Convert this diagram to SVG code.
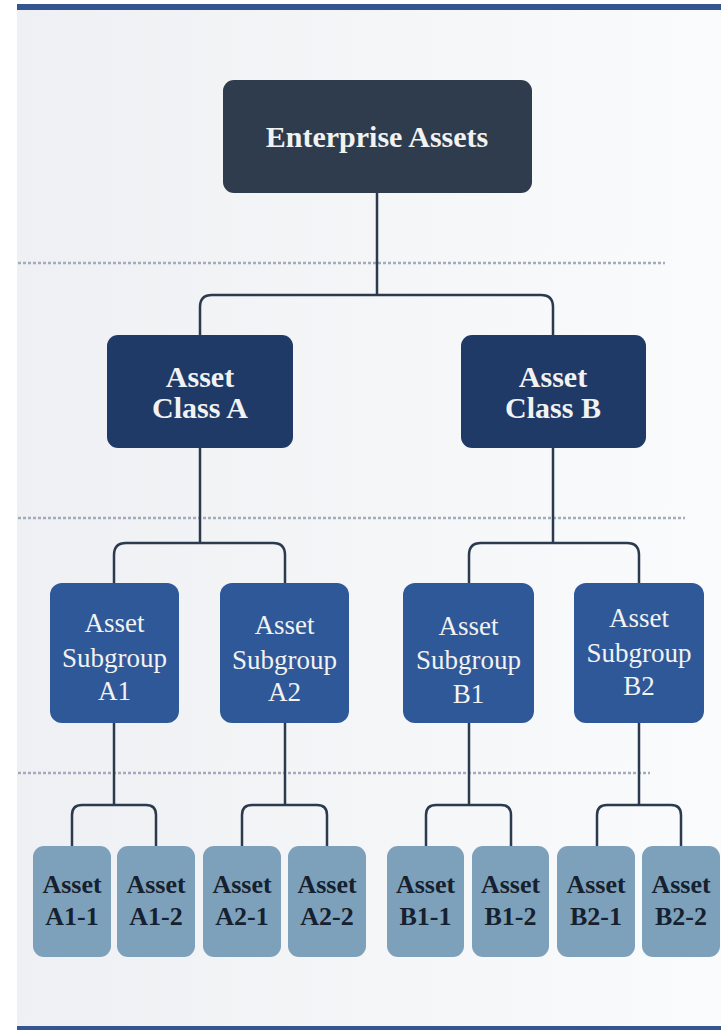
<svg xmlns="http://www.w3.org/2000/svg" width="721" height="1030" viewBox="0 0 721 1030">
<style>
.bar{fill:#34558f}
.dot{stroke:#a3acbd;stroke-width:2.5;stroke-dasharray:3 2;fill:none}
.con{stroke:#2b3a4e;stroke-width:2.5;fill:none}
.top{fill:#2e3c4d}
.cls{fill:#1f3a67}
.sub{fill:#2f5899}
.leaf{fill:#7da1ba}
.tb{font-weight:bold;fill:#f2f2f2;text-anchor:middle}
.tr{fill:#f2f2f2;text-anchor:middle;font-size:27px}
.tl{font-weight:bold;fill:#16202e;text-anchor:middle;font-size:26px}
</style>
<defs>
<linearGradient id="bg" x1="0" y1="0" x2="1" y2="0">
<stop offset="0" stop-color="#eff0f3"/>
<stop offset="1" stop-color="#fafbfc"/>
</linearGradient>
</defs>
<rect x="0" y="0" width="721" height="1030" fill="#ffffff"/>
<rect x="17" y="10" width="704" height="1016" fill="url(#bg)"/>
<rect class="bar" x="17" y="4" width="704" height="6"/>
<rect class="bar" x="17" y="1026" width="704" height="4"/>
<g id="guides">
<line class="dot" x1="18" y1="263" x2="665" y2="263"/>
<line class="dot" x1="18" y1="518" x2="685" y2="518"/>
<line class="dot" x1="18" y1="773" x2="650" y2="773"/>
</g>
<g id="connectors">
<path class="con" d="M377 193 V295"/>
<path class="con" d="M200 335 V307 Q200 295 212 295 H541 Q553 295 553 307 V335"/>
<path class="con" d="M200 448 V543"/>
<path class="con" d="M114 583 V555 Q114 543 126 543 H273 Q285 543 285 555 V583"/>
<path class="con" d="M553 448 V543"/>
<path class="con" d="M469 583 V555 Q469 543 481 543 H627 Q639 543 639 555 V583"/>
<path class="con" d="M114 723 V805"/>
<path class="con" d="M72 846 V815 Q72 805 82 805 H146 Q156 805 156 815 V846"/>
<path class="con" d="M285 723 V805"/>
<path class="con" d="M242 846 V815 Q242 805 252 805 H317 Q327 805 327 815 V846"/>
<path class="con" d="M469 723 V805"/>
<path class="con" d="M426 846 V815 Q426 805 436 805 H501 Q511 805 511 815 V846"/>
<path class="con" d="M639 723 V805"/>
<path class="con" d="M597 846 V815 Q597 805 607 805 H671 Q681 805 681 815 V846"/>
</g>
<g font-family="'Liberation Serif', 'Times New Roman', 'DejaVu Serif', serif">
<g id="n-enterprise">
<rect class="top" x="223" y="80" width="309" height="113" rx="11"/>
<text class="tb" x="377" y="147" font-size="30">Enterprise Assets</text>
</g>
<g id="n-classA">
<rect class="cls" x="107" y="335" width="186" height="113" rx="11"/>
<text class="tb" x="200" y="387" font-size="30">Asset</text>
<text class="tb" x="200" y="418" font-size="30">Class A</text>
</g>
<g id="n-classB">
<rect class="cls" x="461" y="335" width="185" height="113" rx="11"/>
<text class="tb" x="553" y="387" font-size="30">Asset</text>
<text class="tb" x="553" y="418" font-size="30">Class B</text>
</g>
<g id="n-subA1">
<rect class="sub" x="50" y="583" width="129" height="140" rx="12"/>
<text class="tr" x="114.5" y="632">Asset</text>
<text class="tr" x="114.5" y="667">Subgroup</text>
<text class="tr" x="114.5" y="700">A1</text>
</g>
<g id="n-subA2">
<rect class="sub" x="220" y="583" width="129" height="140" rx="12"/>
<text class="tr" x="284.5" y="634">Asset</text>
<text class="tr" x="284.5" y="669">Subgroup</text>
<text class="tr" x="284.5" y="701">A2</text>
</g>
<g id="n-subB1">
<rect class="sub" x="403" y="583" width="131" height="140" rx="12"/>
<text class="tr" x="468.5" y="635">Asset</text>
<text class="tr" x="468.5" y="669">Subgroup</text>
<text class="tr" x="468.5" y="703">B1</text>
</g>
<g id="n-subB2">
<rect class="sub" x="574" y="583" width="130" height="140" rx="12"/>
<text class="tr" x="639" y="627">Asset</text>
<text class="tr" x="639" y="662">Subgroup</text>
<text class="tr" x="639" y="695">B2</text>
</g>
<g id="n-A1-1">
<rect class="leaf" x="33" y="846" width="78" height="111" rx="11"/>
<text class="tl" x="72" y="893">Asset</text>
<text class="tl" x="72" y="925">A1-1</text>
</g>
<g id="n-A1-2">
<rect class="leaf" x="117" y="846" width="78" height="111" rx="11"/>
<text class="tl" x="156" y="893">Asset</text>
<text class="tl" x="156" y="925">A1-2</text>
</g>
<g id="n-A2-1">
<rect class="leaf" x="203" y="846" width="78" height="111" rx="11"/>
<text class="tl" x="242" y="893">Asset</text>
<text class="tl" x="242" y="925">A2-1</text>
</g>
<g id="n-A2-2">
<rect class="leaf" x="288" y="846" width="78" height="111" rx="11"/>
<text class="tl" x="327" y="893">Asset</text>
<text class="tl" x="327" y="925">A2-2</text>
</g>
<g id="n-B1-1">
<rect class="leaf" x="387" y="846" width="77" height="111" rx="11"/>
<text class="tl" x="425.5" y="893">Asset</text>
<text class="tl" x="425.5" y="925">B1-1</text>
</g>
<g id="n-B1-2">
<rect class="leaf" x="472" y="846" width="77" height="111" rx="11"/>
<text class="tl" x="510.5" y="893">Asset</text>
<text class="tl" x="510.5" y="925">B1-2</text>
</g>
<g id="n-B2-1">
<rect class="leaf" x="557" y="846" width="78" height="111" rx="11"/>
<text class="tl" x="596" y="893">Asset</text>
<text class="tl" x="596" y="925">B2-1</text>
</g>
<g id="n-B2-2">
<rect class="leaf" x="642" y="846" width="78" height="111" rx="11"/>
<text class="tl" x="681" y="893">Asset</text>
<text class="tl" x="681" y="925">B2-2</text>
</g>
</g>
</svg>
